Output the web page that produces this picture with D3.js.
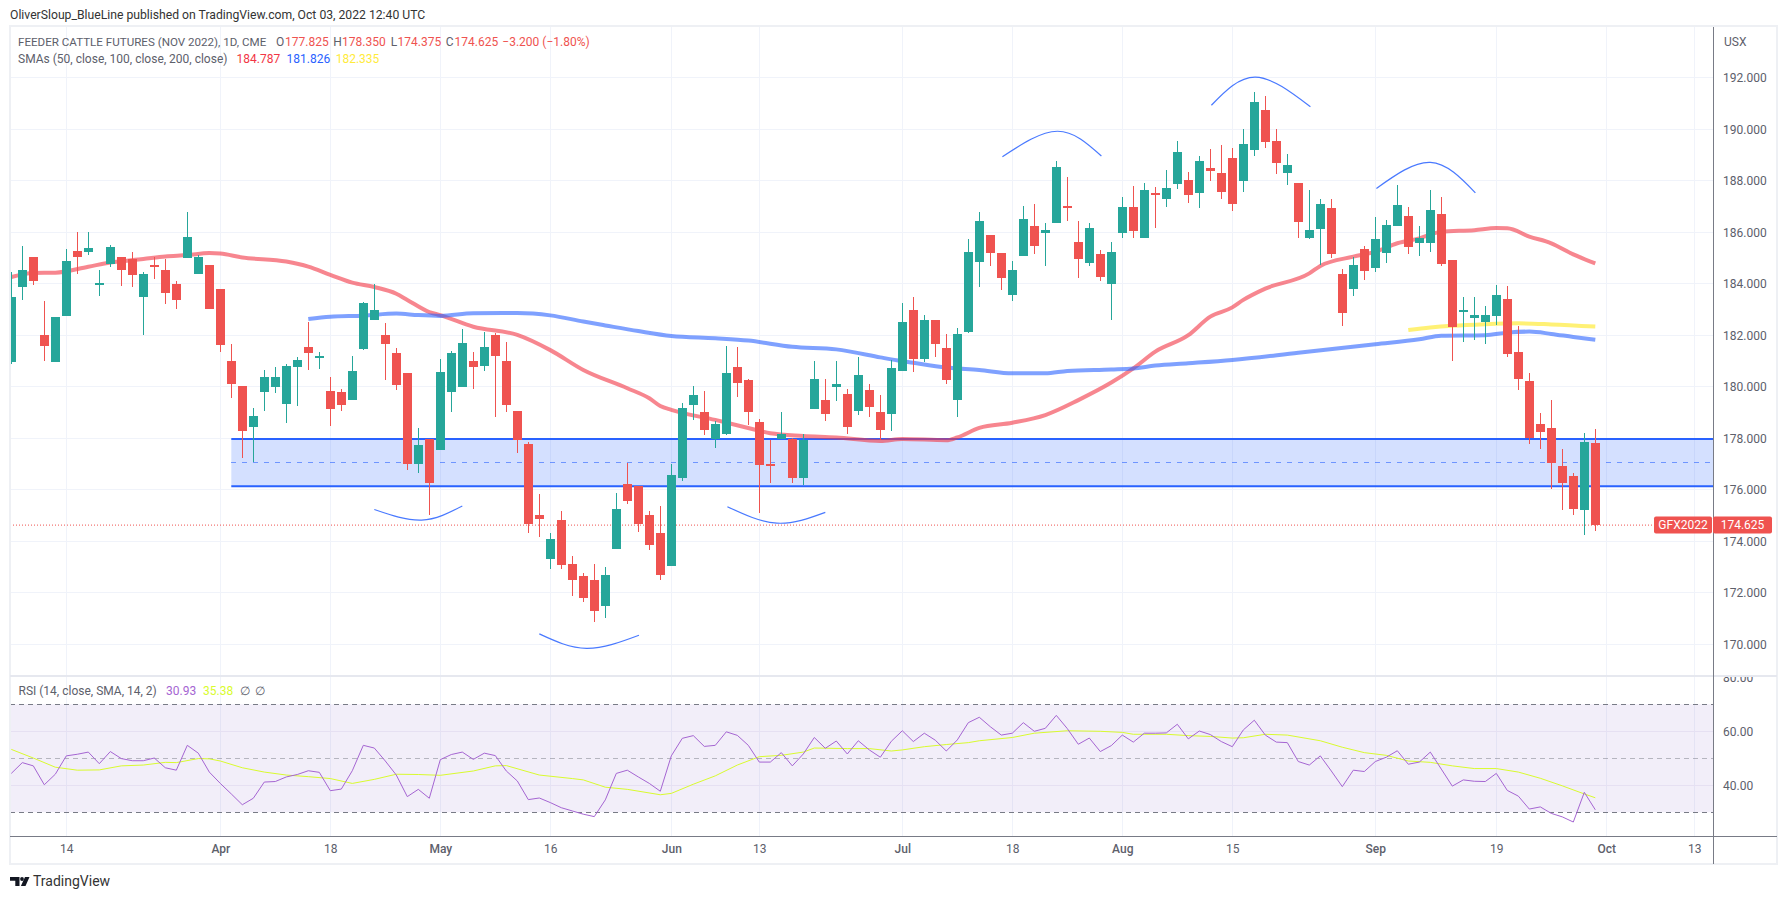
<!DOCTYPE html>
<html>
<head>
<meta charset="utf-8">
<title>Feeder Cattle Futures</title>
<script src="https://cdn.jsdelivr.net/npm/d3@7"></script>
<style>
  html, body { margin: 0; padding: 0; background: #fff; }
  svg { display: block; }
  text { font-family: Roboto, sans-serif; }
</style>
</head>
<body>
<div id="chart"></div>
<script>
// daily bars, index 0 is the first bar in view, Mar 7 or so
const opens = [
  180.96,183.87,185.04,182.01,180.96,182.75,185.27,185.23,184.00,184.76,
  185.04,184.96,183.48,184.73,184.53,183.99,185.00,184.38,184.73,183.79,
  181.00,180.03,178.43,179.79,179.99,179.33,180.76,181.54,181.17,179.83,
  179.79,179.48,181.46,182.59,182.01,181.31,180.53,177.00,177.97,177.54,
  179.79,179.99,181.00,180.80,182.01,181.00,179.06,177.77,175.02,173.31,
  174.82,173.11,172.65,172.49,171.48,173.70,176.22,176.14,175.02,174.32,
  173.04,176.45,179.29,179.02,177.97,178.16,180.77,180.26,178.63,177.00,
  177.97,177.97,176.45,179.13,179.48,179.99,179.72,179.05,179.87,179.02,
  178.94,180.61,182.98,181.07,182.59,181.50,179.48,182.12,184.84,185.89,
  185.19,183.56,185.07,186.24,185.97,186.36,187.02,185.62,184.80,185.15,
  183.99,185.97,186.98,185.77,187.52,187.29,187.87,188.03,187.52,188.49,
  188.30,188.88,187.99,189.19,190.75,189.54,188.30,187.91,185.77,186.12,
  186.94,184.38,183.79,185.35,184.61,185.19,186.24,186.63,185.58,185.58,
  186.70,184.92,182.90,182.67,182.51,182.75,183.40,181.35,180.22,178.55,
  178.40,176.92,176.53,175.21,177.825];
const highs = [
  184.45,185.46,185.04,183.33,182.71,185.35,186.01,186.01,184.53,185.50,
  185.04,185.23,184.45,185.04,184.96,184.10,186.78,185.11,184.73,183.79,
  181.66,180.03,179.17,180.65,180.76,180.88,181.15,182.51,181.35,180.38,
  179.91,181.19,183.29,183.99,182.47,181.50,180.53,178.40,177.97,181.08,
  181.39,182.24,181.35,182.12,182.10,181.74,179.06,177.85,175.83,174.32,
  175.17,173.43,172.77,173.11,173.00,175.87,177.04,176.14,175.17,175.37,
  176.98,179.37,180.03,179.83,178.67,181.58,181.54,180.30,178.75,177.93,
  179.02,178.00,178.16,181.00,180.30,181.00,179.91,181.15,180.10,179.68,
  181.04,183.25,183.48,182.78,182.59,182.05,182.28,185.74,186.79,185.89,
  185.19,184.88,187.02,187.09,186.36,188.77,188.14,186.43,186.36,185.31,
  185.62,187.37,187.79,187.91,187.75,188.41,189.54,188.34,188.96,189.23,
  189.39,189.27,190.01,191.44,191.29,190.01,189.04,187.91,187.64,187.29,
  187.29,184.57,185.04,185.46,186.59,186.47,187.83,186.98,186.24,187.64,
  187.37,184.92,183.48,183.48,183.13,183.95,183.91,182.36,180.53,178.98,
  179.48,177.58,176.65,178.20,178.35];
const lows = [
  180.89,183.37,183.95,181.00,180.96,182.75,184.38,185.11,183.52,184.65,
  183.91,183.87,182.01,184.18,183.21,183.02,185.00,184.38,183.02,181.35,
  179.56,177.23,177.06,179.06,179.75,178.59,179.25,180.65,180.69,178.47,
  179.06,179.48,181.42,182.59,180.26,179.87,176.76,176.65,175.02,177.54,
  179.02,179.99,179.91,180.61,178.82,179.02,177.42,174.32,174.16,172.92,
  172.92,171.87,171.64,170.86,171.02,173.70,175.45,174.36,173.66,172.49,
  173.04,176.34,178.71,178.12,177.62,178.12,179.60,178.51,175.10,176.26,
  177.97,176.26,176.18,179.13,178.67,179.45,178.16,178.90,178.82,177.93,
  178.28,180.61,180.57,180.96,181.15,180.10,178.82,182.08,183.87,184.69,
  183.75,183.33,185.07,185.15,184.69,186.36,186.43,184.22,184.69,184.10,
  182.59,185.77,185.77,185.77,186.16,186.98,187.68,187.13,186.94,187.99,
  187.29,186.82,187.56,188.96,189.27,188.26,187.83,185.77,185.74,184.73,
  185.00,182.36,183.52,184.14,184.45,184.80,186.24,185.15,185.08,185.23,
  184.69,180.99,181.74,181.81,181.66,182.40,181.15,179.87,177.77,177.58,
  176.03,175.21,175.02,174.24,174.38];
const closes = [
  183.48,184.53,184.10,181.58,182.71,184.88,185.04,185.39,184.03,185.42,
  184.53,184.34,184.38,184.65,183.64,183.37,185.81,185.04,183.02,181.62,
  180.10,178.28,178.86,180.38,180.38,180.80,181.04,181.31,181.19,179.13,
  179.29,180.61,183.25,182.98,181.66,180.07,177.00,177.74,176.26,180.57,
  181.31,181.70,180.77,181.54,181.19,179.29,177.93,174.67,174.86,174.09,
  173.08,172.49,171.79,171.29,172.69,175.25,175.56,174.67,173.85,172.69,
  176.57,179.17,179.68,178.32,178.55,180.53,180.14,179.02,176.96,176.96,
  178.16,176.45,177.93,180.30,178.94,180.10,178.43,180.45,179.21,178.32,
  180.73,182.51,181.07,182.59,181.66,180.26,182.05,185.23,186.44,185.19,
  184.22,184.53,186.51,185.46,186.09,188.53,186.94,184.96,186.16,184.26,
  185.23,186.98,186.05,187.64,187.44,187.72,189.11,187.44,188.77,188.38,
  187.56,187.09,189.43,191.05,189.50,188.69,188.61,186.40,186.09,187.09,
  185.15,182.86,184.73,184.49,185.74,186.28,187.06,185.42,185.77,186.86,
  184.76,182.32,182.98,182.78,182.78,183.56,181.27,180.30,178.00,178.24,
  177.04,176.26,175.25,177.85,174.625];

const sma50Days = [0,2,4,7,9,12,14,16,18,19,21,25,27,29,31,33,35,36,38,39,42,46,49,52,56,58,59,60,64,68,69,72,75,79,81,85,86,88,91,94,97,100,102,104,107,109,111,112,114,118,119,122,124,126,128,130,133,135,136,138,140,142,144];
const sma50Values = [184.26,184.42,184.43,184.66,184.82,184.96,185.06,185.11,185.19,185.17,185.02,184.86,184.66,184.34,184.04,183.87,183.61,183.37,182.90,182.78,182.33,182.01,181.42,180.65,179.94,179.55,179.25,179.10,178.71,178.29,178.19,178.09,178.03,177.89,177.97,177.92,178.03,178.40,178.60,178.90,179.48,180.16,180.71,181.36,182.00,182.72,183.08,183.37,183.81,184.40,184.69,185.05,185.24,185.57,185.76,186.02,186.08,186.16,186.15,185.83,185.57,185.14,184.787];

const sma100Days = [27,29,32,35,37,39,42,46,49,52,54,57,60,64,67,71,75,79,80,82,85,88,91,94,96,100,102,104,107,111,117,124,128,130,134,136,138,140,142,144];
const sma100Values = [182.63,182.72,182.76,182.84,182.78,182.75,182.85,182.86,182.77,182.53,182.38,182.16,181.97,181.88,181.79,181.55,181.45,181.14,181.06,180.93,180.75,180.65,180.52,180.52,180.61,180.67,180.71,180.82,180.91,181.04,181.32,181.65,181.84,181.98,182.00,182.10,182.14,182.05,181.93,181.826];

const sma200Days = [127,129,131,134,137,140,144];
const sma200Values = [182.20,182.30,182.37,182.43,182.46,182.42,182.335];

const rsiValues = [
  44.4,48.4,47.2,40.2,44.1,50.9,51.5,52.3,48.0,52.5,
  49.9,49.1,49.1,50.1,46.5,45.6,54.8,51.9,44.9,40.7,
  36.8,32.8,35.2,41.2,41.4,43.1,44.0,45.4,44.8,38.0,
  38.6,45.4,54.8,53.8,49.0,43.8,35.8,38.5,35.2,49.5,
  51.4,52.3,49.6,51.9,51.0,45.3,41.6,34.7,35.3,33.6,
  31.7,30.5,29.3,28.4,34.6,44.4,45.6,43.1,40.7,37.8,
  50.9,57.4,58.4,54.4,54.8,59.8,58.5,54.8,48.6,48.6,
  52.1,47.2,51.6,57.7,53.7,56.4,51.6,56.5,53.1,50.4,
  56.3,60.2,56.2,59.3,56.7,52.7,56.8,63.2,65.2,61.7,
  58.6,59.3,63.2,60.0,61.1,65.9,61.0,55.2,57.5,52.5,
  54.7,58.6,56.0,59.3,59.3,59.4,62.6,57.2,60.1,58.8,
  56.2,54.3,60.5,64.1,58.6,56.0,55.8,48.8,47.5,50.9,
  45.3,39.5,45.6,45.1,48.8,50.4,52.8,47.8,48.6,52.3,
  46.0,39.7,42.0,41.5,41.4,44.4,38.1,36.0,31.2,32.0,
  29.6,28.3,26.4,37.4,30.93];

const rsiSmaDays = [0,2,4,6,8,10,12,14,15,17,18,19,21,23,25,27,29,31,33,35,37,39,42,44,45,48,51,52,54,56,59,60,62,64,66,68,70,72,73,76,78,80,81,83,85,87,88,91,93,96,99,101,102,105,107,109,111,112,114,116,119,121,123,125,127,129,131,133,135,137,139,141,143,144];
const rsiSmaValues = [53.3,50.1,46.7,45.6,45.7,47.2,47.5,48.5,48.4,49.9,49.8,49.0,46.5,44.9,43.8,43.2,42.5,40.7,42.2,44.1,44.0,43.7,45.3,47.2,47.3,43.8,42.5,42.0,39.3,38.5,36.5,37.0,40.4,43.5,47.5,50.6,51.1,52.3,53.8,53.6,53.6,52.7,53.1,54.3,55.1,55.8,56.5,57.7,59.3,60.2,60.0,59.6,58.9,58.9,58.4,58.1,57.5,57.6,58.9,58.6,56.5,54.1,52.1,51.1,49.0,48.5,47.2,46.2,46.2,44.9,42.6,39.8,36.8,35.38];

const priceTicks = [192,190,188,186,184,182,180,178,176,174,172,170];
const rsiTicks = [80,60,40];
const rsiLevels = [70,50,30];
const timeTickDays = [5,19,29,39,49,60,68,81,91,101,111,124,135,145,153];
const timeTickLabels = ['14','Apr','18','May','16','Jun','13','Jul','18','Aug','15','Sep','19','Oct','13'];
const monthLabels = ['Apr','May','Jun','Jul','Aug','Sep','Oct'];

// support zone drawn on the chart
const zoneStartDay = 20;
const zoneTop = 177.97;
const zoneMid = 177.04;
const zoneBottom = 176.13;
const lastClose = 174.625;

// hand drawn arcs for the shoulders and heads, [day, price]
const arcs = [
  [[33,175.23],[37.3,174.82],[41,175.37]],
  [[48,170.4],[52.3,169.84],[57.06,170.35]],
  [[65.1,175.34],[69.6,174.7],[74,175.12]],
  [[90.1,188.93],[95.1,189.92],[99.1,188.96]],
  [[109.1,190.93],[113.1,192.02],[118.1,190.87]],
  [[124.1,187.7],[129,188.71],[133.1,187.53]]
];

const green = '#26a69a', red = '#ef5350', gridColor = '#f0f3fa', axisColor = '#787b86', textColor = '#5d606b';

const width = 1787, height = 899;
const plotLeft = 10, plotRight = 1777, plotTop = 27, axisX = 1713, paneSplit = 676, timeY = 836, plotBottom = 864;

const x = d3.scaleLinear().domain([0, 144]).range([11.3, 1595.3]);
const y = d3.scaleLinear().domain([188, 174]).range([180.7, 541.2]);
const rsiY = d3.scaleLinear().domain([70, 30]).range([704.3, 812.3]);

const svg = d3.select('#chart').append('svg').attr('width', width).attr('height', height);
const defs = svg.append('defs');
defs.append('clipPath').attr('id', 'plot').append('rect')
  .attr('x', plotLeft).attr('y', plotTop).attr('width', axisX - plotLeft).attr('height', paneSplit - plotTop);
defs.append('clipPath').attr('id', 'rsi-plot').append('rect')
  .attr('x', plotLeft).attr('y', paneSplit).attr('width', axisX - plotLeft).attr('height', timeY - paneSplit);
defs.append('clipPath').attr('id', 'rsi-axis').append('rect')
  .attr('x', axisX).attr('y', paneSplit + 1).attr('width', plotRight - axisX).attr('height', timeY - paneSplit);

// grid
const grid = svg.append('g').attr('shape-rendering', 'crispEdges').attr('stroke', gridColor);
grid.selectAll('.v').data(timeTickDays).join('line').attr('class', 'v')
  .attr('x1', d => x(d)).attr('x2', d => x(d)).attr('y1', plotTop).attr('y2', timeY);
grid.selectAll('.h').data(priceTicks).join('line').attr('class', 'h')
  .attr('x1', plotLeft).attr('x2', axisX).attr('y1', d => y(d)).attr('y2', d => y(d));

// price pane
const pane = svg.append('g').attr('clip-path', 'url(#plot)');

pane.append('rect')
  .attr('x', x(zoneStartDay)).attr('y', y(zoneTop))
  .attr('width', axisX - x(zoneStartDay)).attr('height', y(zoneBottom) - y(zoneTop))
  .attr('fill', '#2962ff').attr('fill-opacity', 0.2);
[zoneTop, zoneBottom].forEach(p => {
  pane.append('line').attr('x1', x(zoneStartDay)).attr('x2', axisX).attr('y1', y(p)).attr('y2', y(p))
    .attr('stroke', '#2962ff').attr('stroke-width', 2);
});
pane.append('line').attr('x1', x(zoneStartDay)).attr('x2', axisX).attr('y1', y(zoneMid)).attr('y2', y(zoneMid))
  .attr('stroke', '#2962ff').attr('stroke-opacity', 0.6).attr('stroke-dasharray', '5,6').attr('shape-rendering', 'crispEdges');

pane.append('line').attr('x1', plotLeft).attr('x2', 1654).attr('y1', y(lastClose)).attr('y2', y(lastClose))
  .attr('stroke', red).attr('stroke-dasharray', '1,2');

const smaLine = d3.line().x(d => x(d[0])).y(d => y(d[1])).curve(d3.curveMonotoneX);
const smas = [
  { days: sma50Days, values: sma50Values, color: '#f23645', opacity: 0.6 },
  { days: sma100Days, values: sma100Values, color: '#2962ff', opacity: 0.6 },
  { days: sma200Days, values: sma200Values, color: '#ffeb3b', opacity: 0.7 }
];
smas.forEach(s => {
  pane.append('path').datum(d3.zip(s.days, s.values)).attr('d', smaLine)
    .attr('fill', 'none').attr('stroke', s.color).attr('stroke-opacity', s.opacity).attr('stroke-width', 4);
});

const candles = pane.append('g').attr('shape-rendering', 'crispEdges')
  .selectAll('g').data(d3.range(opens.length)).join('g')
  .attr('fill', i => closes[i] >= opens[i] ? green : red);
candles.append('rect')
  .attr('x', i => Math.round(x(i)) - 0.5).attr('width', 1)
  .attr('y', i => y(highs[i])).attr('height', i => y(lows[i]) - y(highs[i]));
candles.append('rect')
  .attr('x', i => Math.round(x(i)) - 4.5).attr('width', 9)
  .attr('y', i => y(Math.max(opens[i], closes[i])))
  .attr('height', i => Math.max(2, Math.abs(y(opens[i]) - y(closes[i]))));

const arcLine = d3.line().x(d => x(d[0])).y(d => y(d[1])).curve(d3.curveNatural);
pane.selectAll('.arc').data(arcs).join('path').attr('class', 'arc').attr('d', arcLine)
  .attr('fill', 'none').attr('stroke', '#2962ff').attr('stroke-opacity', 0.85).attr('stroke-width', 1.2);

// rsi pane
const rsiPane = svg.append('g').attr('clip-path', 'url(#rsi-plot)');
rsiPane.append('rect')
  .attr('x', plotLeft).attr('width', axisX - plotLeft).attr('y', rsiY(70)).attr('height', rsiY(30) - rsiY(70))
  .attr('fill', '#7e57c2').attr('fill-opacity', 0.1);
rsiPane.selectAll('.g').data(rsiTicks.slice(1)).join('line').attr('class', 'g')
  .attr('x1', plotLeft).attr('x2', axisX).attr('y1', d => rsiY(d)).attr('y2', d => rsiY(d))
  .attr('stroke', '#e6e0f2').attr('shape-rendering', 'crispEdges');
rsiPane.selectAll('.lvl').data(rsiLevels).join('line').attr('class', 'lvl')
  .attr('x1', plotLeft).attr('x2', axisX).attr('y1', d => rsiY(d)).attr('y2', d => rsiY(d))
  .attr('stroke', axisColor).attr('stroke-opacity', d => d === 50 ? 0.5 : 1)
  .attr('stroke-dasharray', '5,4').attr('shape-rendering', 'crispEdges');
rsiPane.append('path').datum(d3.zip(rsiSmaDays, rsiSmaValues))
  .attr('d', d3.line().x(d => x(d[0])).y(d => rsiY(d[1])))
  .attr('fill', 'none').attr('stroke', '#d9fb2e').attr('stroke-width', 1);
rsiPane.append('path').datum(rsiValues)
  .attr('d', d3.line().x((d, i) => x(i)).y(d => rsiY(d)))
  .attr('fill', 'none').attr('stroke', '#a565d2').attr('stroke-width', 1);

// axes
function cleanAxis(g) {
  g.select('.domain').remove();
  g.selectAll('.tick line').remove();
  g.selectAll('text').attr('fill', textColor).style('font-family', 'Roboto, sans-serif').style('font-size', '12px');
}
svg.append('g').attr('transform', `translate(${axisX},0)`)
  .call(d3.axisRight(y).tickValues(priceTicks).tickSize(0).tickPadding(10).tickFormat(d3.format('.3f')))
  .call(cleanAxis);
svg.append('g').attr('clip-path', 'url(#rsi-axis)')
  .append('g').attr('transform', `translate(${axisX},0)`)
  .call(d3.axisRight(rsiY).tickValues(rsiTicks).tickSize(0).tickPadding(10).tickFormat(d3.format('.2f')))
  .call(cleanAxis);
svg.append('g').attr('transform', `translate(0,${timeY})`)
  .call(d3.axisBottom(x).tickValues(timeTickDays).tickSize(0).tickPadding(8).tickFormat((d, i) => timeTickLabels[i]))
  .call(cleanAxis)
  .selectAll('text').style('font-weight', t => monthLabels.includes(timeTickLabels[timeTickDays.indexOf(t)]) ? 500 : 400);

// frame
const frameLines = svg.append('g').attr('shape-rendering', 'crispEdges').attr('fill', 'none');
frameLines.append('rect').attr('x', 10).attr('y', 26).attr('width', plotRight - 10).attr('height', plotBottom - 26)
  .attr('stroke', '#eef0f4').attr('stroke-width', 2);
frameLines.append('line').attr('x1', plotLeft).attr('x2', plotRight).attr('y1', paneSplit).attr('y2', paneSplit)
  .attr('stroke', '#e6e8ef').attr('stroke-width', 2);
frameLines.append('line').attr('x1', axisX).attr('x2', axisX).attr('y1', plotTop).attr('y2', plotBottom).attr('stroke', axisColor);
frameLines.append('line').attr('x1', plotLeft).attr('x2', plotRight).attr('y1', timeY).attr('y2', timeY).attr('stroke', axisColor);

// price label for last close
const lastY = y(lastClose);
svg.append('rect').attr('x', 1654).attr('y', lastY - 8.5).attr('width', 58).attr('height', 17).attr('rx', 2).attr('fill', red);
svg.append('rect').attr('x', axisX).attr('y', lastY - 8.5).attr('width', 59).attr('height', 17).attr('rx', 2).attr('fill', red);
svg.append('text').attr('x', 1683).attr('y', lastY + 4.3).attr('text-anchor', 'middle').attr('fill', '#fff').attr('font-size', 12).text('GFX2022');
svg.append('text').attr('x', 1742.5).attr('y', lastY + 4.3).attr('text-anchor', 'middle').attr('fill', '#fff').attr('font-size', 12).text(d3.format('.3f')(lastClose));

// legend text
function label(px, py, str, color, size) {
  return svg.append('text').attr('x', px).attr('y', py).attr('fill', color).attr('font-size', size || 12).text(str);
}
label(10, 19, 'OliverSloup_BlueLine published on TradingView.com, Oct 03, 2022 12:40 UTC', '#333', 12.2);
label(1724, 46, 'USX', textColor);

const gray = '#5d606b';
label(18, 46, 'FEEDER CATTLE FUTURES (NOV 2022), 1D, CME', gray, 11.6);
label(276, 46, 'O', gray); label(285, 46, '177.825', red);
label(333.3, 46, 'H', gray); label(342, 46, '178.350', red);
label(390.7, 46, 'L', gray); label(397.5, 46, '174.375', red);
label(445.7, 46, 'C', gray); label(454.5, 46, '174.625', red);
label(502.3, 46, '\u22123.200 (\u22121.80%)', red);

label(18, 63, 'SMAs (50, close, 100, close, 200, close)', gray);
label(236.5, 63, '184.787', '#f23645');
label(286.5, 63, '181.826', '#2962ff');
label(335.7, 63, '182.335', '#ffeb3b');

label(18.5, 695, 'RSI (14, close, SMA, 14, 2)', gray);
label(166, 695, '30.93', '#a565d2');
label(203, 695, '35.38', '#d9fb2e');
label(240, 695, '\u2205', gray);
label(255, 695, '\u2205', gray);

// logo
svg.append('path').attr('fill', '#131722')
  .attr('d', 'M10 877h9.5v9h-4.2v-5.2h-5.3z M25 877h4.5l-4 9h-4.6z');
svg.append('circle').attr('cx', 22).attr('cy', 879).attr('r', 1.9).attr('fill', '#131722');
label(33, 886, 'TradingView', '#333', 14);
</script>
</body>
</html>
